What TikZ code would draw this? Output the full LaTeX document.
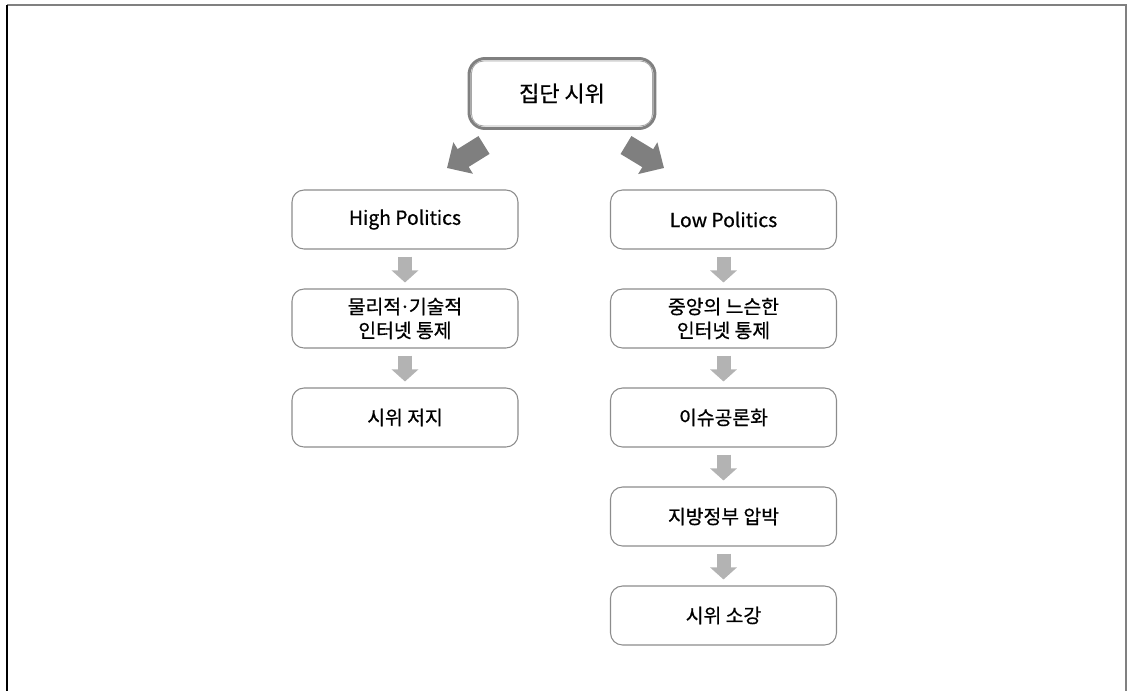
\documentclass[tikz,border=0pt]{standalone}
\usepackage{fontspec}
\setmainfont{Noto Sans CJK KR}[UprightFeatures={FakeBold=0.7}]
\usepackage{tikz}
\usetikzlibrary{arrows.meta,calc}
\definecolor{framegray}{HTML}{808080}
\definecolor{boxgray}{HTML}{8C8C8C}
\definecolor{bigarrowgray}{HTML}{7F7F7F}
\definecolor{smallarrowgray}{HTML}{B3B3B3}

\newcommand{\middot}{\kern-0.08em·\kern-0.08em}

\tikzset{
    box/.style={draw=boxgray, line width=0.6pt, rounded corners=0.24cm, fill=white,
        minimum width=4.52cm, minimum height=1.18cm, align=center,
        font=\fontsize{11}{13.6}\selectfont},
    topbox/.style={draw=framegray, line width=1.7pt, rounded corners=0.32cm,
        minimum width=3.72cm, minimum height=1.4cm, font=\fontsize{12.5}{14}\selectfont},
    bigarrow/.style={draw=bigarrowgray, line width=0.42cm,
        -{Triangle[width=0.72cm, length=0.38cm]}},
    smallarrow/.style={draw=smallarrowgray, line width=0.28cm,
        -{Triangle[width=0.52cm, length=0.24cm]}, shorten <=0.14cm, shorten >=0.12cm}
}

\begin{document}
\begin{tikzpicture}[x=0.02cm, y=-0.02cm]
                \useasboundingbox (0,0) rectangle (1127,691);
                \draw[framegray, line width=0.8pt] (7,5) -- (1126,5) -- (1126,691);
                \draw[black, line width=0.8pt] (7,5) -- (7,691);

                \node[topbox] (demo) at (562,93.5) {집단 시위};
                \draw[gray!70, line width=0.5pt, rounded corners=0.24cm]
                    ($(demo.north west)+(4,4)$) rectangle ($(demo.south east)+(-4,-4)$);

                \coordinate (hightail) at (484,145);
                \coordinate (hightip) at (447,168);
                \coordinate (lowtail) at (626,145);
                \coordinate (lowtip) at (664,168);
                \draw[bigarrow] (hightail) -- (hightip);
                \draw[bigarrow] (lowtail) -- (lowtip);

                \def\rowstep{99}
                \foreach \txt [count=\j from 0] in {High Politics, {물리적\middot 기술적\\인터넷 통제}, 시위 저지} {
                    \node[box] (high\j) at (405, {219.5+\rowstep*\j}) {\txt};
                }
                \foreach \txt [count=\j from 0] in {Low Politics, {중앙의 느슨한\\인터넷 통제}, 이슈공론화, 지방정부 압박, 시위 소강} {
                    \node[box] (low\j) at (723.5, {219.5+\rowstep*\j}) {\txt};
                }

                \foreach \j in {0,1} {
                    \draw[smallarrow] (high\j) -- (high\the\numexpr\j+1\relax);
                }
                \foreach \j in {0,...,3} {
                    \draw[smallarrow] (low\j) -- (low\the\numexpr\j+1\relax);
                }
            \end{tikzpicture}
\end{document}
